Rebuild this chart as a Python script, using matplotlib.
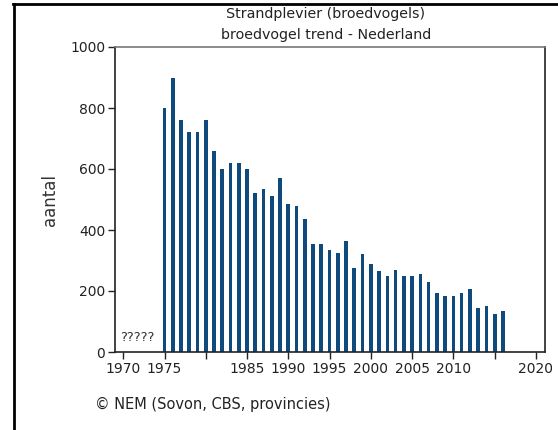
# Strandplevier broedvogel trend - bar chart

import numpy as np
import matplotlib
matplotlib.use("Agg")
import matplotlib.pyplot as plt

# Data
years = list(range(1975, 2017))
counts = [800, 900, 760, 720, 720, 760, 660, 600, 620, 620,
          600, 520, 535, 510, 570, 485, 480, 435, 355, 355,
          335, 325, 365, 275, 320, 290, 265, 250, 270, 250,
          250, 255, 230, 195, 185, 185, 195, 205, 145, 150,
          125, 135]

xticks = [1970, 1975, 1980, 1985, 1990, 1995, 2000, 2005, 2010, 2015, 2020]
xticklabels = ["1970", "1975", "", "1985", "1990", "1995", "2000", "2005", "2010", "", "2020"]
yticks = [0, 200, 400, 600, 800, 1000]

bar_color = "#0f4a7c"

fig = plt.figure(figsize=(5.58, 4.30), dpi=100)
ax = fig.add_axes([115 / 558, 78 / 430, 430 / 558, 305 / 430])

ax.bar(years, counts, width=0.45, color=bar_color)

ax.set_xlim(1969, 2021.1)
ax.set_ylim(0, 1000)
ax.set_xticks(xticks)
ax.set_xticklabels(xticklabels)
ax.set_yticks(yticks)
ax.tick_params(axis="both", direction="out", length=5, width=1,
               labelsize=10, colors="#222222", pad=2)

for side in ["left", "bottom", "right"]:
    ax.spines[side].set_color("#222222")
    ax.spines[side].set_linewidth(1.2)
ax.spines["top"].set_color("#777777")
ax.spines["top"].set_linewidth(1.2)

ax.set_ylabel("aantal", fontsize=12, color="#333333", labelpad=8)
ax.text(1969.6, 35, "?????", fontsize=9.5, color="#333333")

# Title lines
fig.text(326 / 558, 1 - 14 / 430, "Strandplevier (broedvogels)",
         ha="center", va="center", fontsize=10.3, color="#222222")
fig.text(326 / 558, 1 - 35 / 430, "broedvogel trend - Nederland",
         ha="center", va="center", fontsize=10.3, color="#222222")

# Copyright
fig.text(95 / 558, 1 - 404 / 430, "\u00a9 NEM (Sovon, CBS, provincies)",
         ha="left", va="center", fontsize=10.5, color="#222222")

# Frame lines (top and left)
fig.add_artist(plt.Line2D([13 / 558, 1], [1 - 4 / 430, 1 - 4 / 430],
                          color="black", linewidth=2, transform=fig.transFigure))
fig.add_artist(plt.Line2D([14 / 558, 14 / 558], [0, 1 - 4 / 430],
                          color="black", linewidth=2, transform=fig.transFigure))

fig.savefig("out.png", dpi=100)
